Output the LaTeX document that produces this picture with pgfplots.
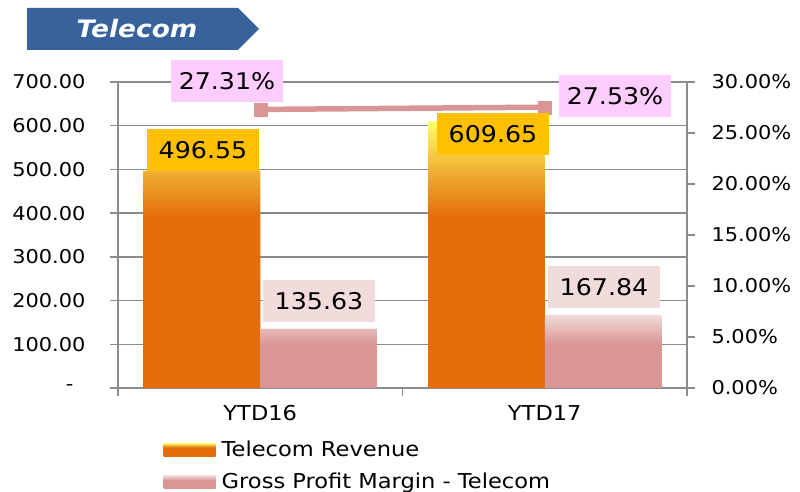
\documentclass[border=0pt]{standalone}
\usepackage{pgfplots}
\pgfplotsset{compat=1.18}
\usepackage{fontspec}
\setmainfont{DejaVu Sans}[FakeStretch=1.1]
\definecolor{revorange}{RGB}{228,108,10}
\definecolor{revyellow}{RGB}{255,255,102}
\definecolor{revgold}{RGB}{240,178,52}
\definecolor{labgold}{RGB}{255,192,0}
\definecolor{gpmdark}{RGB}{217,150,148}
\definecolor{gpmlight}{RGB}{242,220,219}
\definecolor{linelab}{RGB}{255,204,255}
\definecolor{gridgray}{RGB}{140,140,140}
\definecolor{bannerblue}{RGB}{56,98,156}
\pgfdeclareverticalshading{revshade}{100bp}{color(0bp)=(revorange); color(57bp)=(revorange); color(66bp)=(revgold); color(75bp)=(revyellow); color(100bp)=(revyellow)}
\pgfdeclareverticalshading{gpmshade}{100bp}{color(0bp)=(gpmdark); color(55bp)=(gpmdark); color(75bp)=(gpmlight); color(100bp)=(gpmlight)}
\begin{document}
\begin{tikzpicture}
\useasboundingbox (0pt,0pt) rectangle (800pt,492pt);
% title banner
\fill[bannerblue] (27pt,484pt) -- (238pt,484pt) -- (259pt,463pt) -- (238pt,442pt) -- (27pt,442pt) -- cycle;
\node[text=white, font=\fontsize{24}{28}\selectfont\bfseries\itshape] at (137pt,463pt) {Telecom};
\begin{axis}[
  at={(118pt,104pt)}, anchor=south west,
  width=569pt, height=306pt, scale only axis,
  xmin=-0.5, xmax=1.5, ymin=0, ymax=700,
  axis x line*=bottom, axis y line*=left,
  xtick={-0.5,0.5,1.5}, xticklabels={},
  extra x ticks={0,1}, extra x tick labels={YTD16,YTD17},
  extra x tick style={major tick length=0pt, xticklabel style={font=\fontsize{20.5}{24}\selectfont, yshift=-14pt}},
  ytick={0,100,200,300,400,500,600,700},
  yticklabels={{-\hspace*{12pt}},100.00,200.00,300.00,400.00,500.00,600.00,700.00},
  yticklabel style={font=\fontsize{19}{22}\selectfont, xshift=-21pt},
  ymajorgrids, grid style={gridgray, line width=1.5pt},
  axis line style={gridgray, line width=1.5pt},
  tick align=outside, major tick length=8pt,
  tick style={gridgray, line width=1.5pt},
  legend style={at={(axis description cs:0.08,-0.166)}, anchor=north west, draw=none, fill=none, inner sep=0pt, row sep=11pt, font=\fontsize{20.5}{24}\selectfont, cells={anchor=west}, nodes={inner xsep=6pt}},
]
\addplot[ybar, bar width=0.41, bar shift=-0.205, draw=none, shading=revshade,
  legend image code/.code={\shade[shading=revshade] (-1pt,-6.5pt) rectangle (51pt,6.5pt);}]
  coordinates {(0,496.55) (1,609.65)};
\addlegendentry{Telecom Revenue}
\addplot[ybar, bar width=0.41, bar shift=0.205, draw=none, shading=gpmshade,
  legend image code/.code={\shade[shading=gpmshade] (-1pt,-6.5pt) rectangle (51pt,6.5pt);}]
  coordinates {(0,135.63) (1,167.84)};
\addlegendentry{Gross Profit Margin - Telecom}
\end{axis}
\begin{axis}[
  at={(118pt,104pt)}, anchor=south west,
  width=569pt, height=306pt, scale only axis,
  xmin=-0.5, xmax=1.5, ymin=0, ymax=0.30,
  axis x line=none, axis y line*=right,
  ytick={0,0.05,0.10,0.15,0.20,0.25,0.30},
  yticklabels={0.00\%,5.00\%,10.00\%,15.00\%,20.00\%,25.00\%,30.00\%},
  yticklabel style={font=\fontsize{19}{22}\selectfont, xshift=13pt},
  axis line style={gridgray, line width=1.5pt},
  tick align=outside, major tick length=8pt,
  tick style={gridgray, line width=1.5pt},
]
\addplot[gpmdark, line width=5.5pt, mark=square*, mark size=6.5pt, mark options={fill=gpmdark, draw=gpmdark, line width=0.1pt}]
  coordinates {(0,0.2731) (1,0.2753)};
\end{axis}
% data labels
\begin{scope}[every node/.style={minimum width=112pt, minimum height=42pt, inner sep=0pt, font=\fontsize{23}{26}\selectfont}]
\node[fill=labgold] at (203pt,342pt) {496.55};
\node[fill=labgold] at (493pt,357.5pt) {609.65};
\node[fill=gpmlight] at (319pt,191pt) {135.63};
\node[fill=gpmlight] at (604pt,205pt) {167.84};
\node[fill=linelab] at (227pt,411pt) {27.31\%};
\node[fill=linelab] at (615pt,396pt) {27.53\%};
\end{scope}
\end{tikzpicture}
\end{document}
